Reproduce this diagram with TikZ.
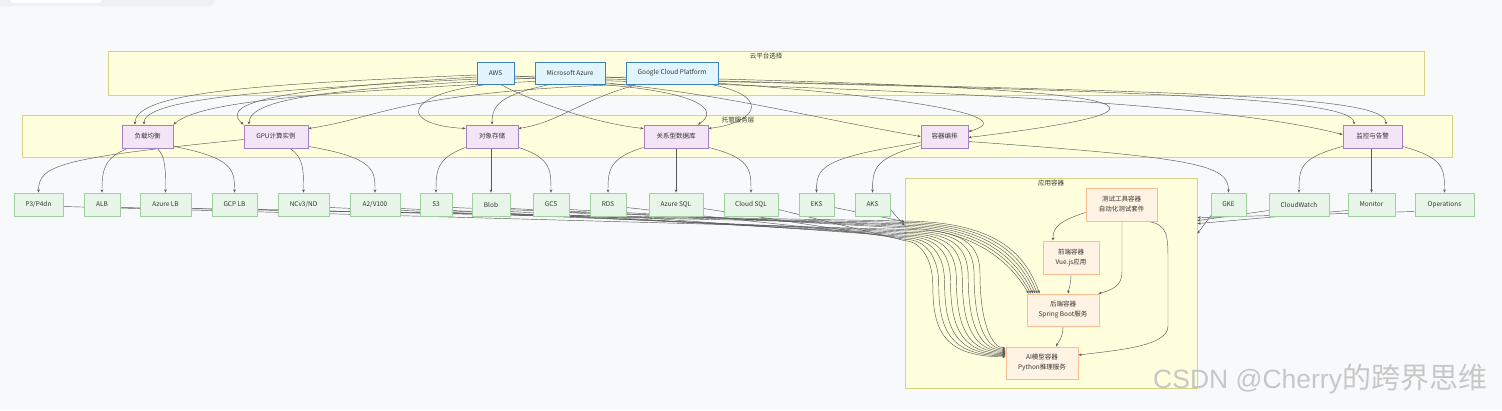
\documentclass[tikz,border=0pt]{standalone}
\usepackage{fontspec}
\setmainfont{Noto Sans CJK SC}
\newfontfamily\wmlatin{Liberation Sans}
\usetikzlibrary{arrows.meta,calc}
\pgfdeclarelayer{back}\pgfdeclarelayer{clus}\pgfdeclarelayer{edges}
\pgfsetlayers{back,clus,edges,main}
\definecolor{bgc}{HTML}{F8F9FA}
\definecolor{clfill}{HTML}{FFFFDE}
\definecolor{cldraw}{HTML}{D6D484}
\definecolor{blfill}{HTML}{E1F5FE}
\definecolor{bldraw}{HTML}{3F7FBF}
\definecolor{pufill}{HTML}{F3E5F5}
\definecolor{pudraw}{HTML}{A77FC7}
\definecolor{grfill}{HTML}{E8F5E9}
\definecolor{grdraw}{HTML}{9FCE9F}
\definecolor{orfill}{HTML}{FFF3E3}
\definecolor{ordraw}{HTML}{F8BE92}
\definecolor{edc}{HTML}{5A5A5A}
\tikzset{
  base/.style={inner sep=0pt, font=\fontsize{6.5}{10}\selectfont, text=black!80, align=center},
  clus/.style={draw=cldraw, fill=clfill, line width=0.8pt, inner sep=0pt},
  ctitle/.style={base},
  cloud/.style={base, draw=bldraw, fill=blfill, line width=0.9pt, minimum height=22pt},
  svc/.style={base, draw=pudraw, fill=pufill, line width=0.8pt, minimum height=23pt},
  res/.style={base, draw=grdraw, fill=grfill, line width=0.8pt, minimum height=23pt},
  app/.style={base, draw=ordraw, fill=orfill, line width=0.9pt},
  ed/.style={draw=edc, line width=0.45pt, -{Stealth[length=3.2pt,width=2.6pt]}},
}
\begin{document}
\begin{tikzpicture}[x=1pt,y=-1pt]
\useasboundingbox (0,0) rectangle (1502,410);
\begin{pgfonlayer}{back}
\fill[bgc] (0,0) rectangle (1502,410);
\fill[black!6, rounded corners=6pt] (-10,-12) rectangle (215,6);
\fill[white, rounded corners=4pt] (10,-12) rectangle (102,3);
\end{pgfonlayer}

% clusters
\begin{pgfonlayer}{clus}
\node[clus, minimum width=1316pt, minimum height=44pt] (c1) at (766,73) {};
\node[clus, minimum width=1430pt, minimum height=42pt] (c2) at (737,136) {};
\node[clus, minimum width=292pt, minimum height=210pt] (c3) at (1051,283) {};
\end{pgfonlayer}
\node[ctitle] (t1) at (766,56.5) {云平台选择};
\node[ctitle] (t2) at (738,120) {托管服务层};
\node[ctitle] (t3) at (1051,183.5) {应用容器};

% cloud providers
\node[cloud, minimum width=37pt] (aws) at (495.5,73) {AWS};
\node[cloud, minimum width=70pt] (az) at (570,73) {Microsoft Azure};
\node[cloud, minimum width=92pt] (gcp) at (672,73) {Google Cloud Platform};

% services
\node[svc, minimum width=51pt] (lb) at (147.5,136.5) {负载均衡};
\node[svc, minimum width=64pt] (gpu) at (276,136.5) {GPU计算实例};
\node[svc, minimum width=52pt] (obj) at (492,136.5) {对象存储};
\node[svc, minimum width=64pt] (rdb) at (676,136.5) {关系型数据库};
\node[svc, minimum width=47pt] (k8s) at (944.5,136.5) {容器编排};
\node[svc, minimum width=59pt] (mon) at (1372.5,136.5) {监控与告警};

% resources
\node[res, minimum width=49pt] (p3) at (38.5,204.5) {P3/P4dn};
\node[res, minimum width=36pt] (alb) at (102,204.5) {ALB};
\node[res, minimum width=51pt] (azlb) at (165.5,204.5) {Azure LB};
\node[res, minimum width=45pt] (gcplb) at (234.5,204.5) {GCP LB};
\node[res, minimum width=51pt] (ncv3) at (303.5,204.5) {NCv3/ND};
\node[res, minimum width=50pt] (a2) at (375,204.5) {A2/V100};
\node[res, minimum width=32pt] (s3) at (436,204.5) {S3};
\node[res, minimum width=38pt] (blob) at (491,204.5) {Blob};
\node[res, minimum width=36pt] (gcs) at (551,204.5) {GCS};
\node[res, minimum width=36pt] (rds) at (608,204.5) {RDS};
\node[res, minimum width=54pt] (azsql) at (676,204.5) {Azure SQL};
\node[res, minimum width=54pt] (csql) at (751,204.5) {Cloud SQL};
\node[res, minimum width=35pt] (eks) at (816.5,204.5) {EKS};
\node[res, minimum width=35pt] (aks) at (872.5,204.5) {AKS};
\node[res, minimum width=35pt] (gke) at (1228.5,204.5) {GKE};
\node[res, minimum width=60pt] (cw) at (1299,204.5) {CloudWatch};
\node[res, minimum width=47pt] (monitor) at (1371.5,204.5) {Monitor};
\node[res, minimum width=59pt] (ops) at (1444.5,204.5) {Operations};

% app containers
\node[app, minimum width=71pt, minimum height=33pt] (test) at (1121.5,204.5) {测试工具容器\\自动化测试套件};
\node[app, minimum width=56pt, minimum height=33pt] (fe) at (1071,257.5) {前端容器\\Vue.js应用};
\node[app, minimum width=72pt, minimum height=32pt] (be) at (1063,310) {后端容器\\Spring Boot服务};
\node[app, minimum width=72pt, minimum height=32pt] (ai) at (1042,363) {AI模型容器\\Python推理服务};

% watermark
\node[inner sep=0pt, anchor=base west, text=black!22] (wm) at (1153,388) {{\wmlatin\fontsize{26.5}{27}\selectfont CSDN @Cherry}{\fontsize{29}{29}\selectfont 的跨界思维}};

\begin{pgfonlayer}{edges}
% cloud -> services
\draw[ed] ($(aws.west)+(0,2)$) .. controls (260,84) and (135,92) .. ($(lb.north)+(-12.5,0)$);
\draw[ed] ($(az.west)+(0,3)$) .. controls (300,88) and (144,96) .. ($(lb.north)+(-3.5,0)$);
\draw[ed] ($(gcp.west)+(0,4)$) .. controls (300,92) and (200,102) .. (lb.north east);
\draw[ed] ($(aws.west)+(0,4)$) .. controls (300,88) and (215,100) .. (gpu.north west);
\draw[ed] ($(az.west)+(0,5)$) .. controls (350,88) and (249,96) .. ($(gpu.north)+(-27,0)$);
\draw[ed] (gcp.south west) .. controls (400,92) and (380,118) .. ($(gpu.east)+(0,-8)$);
\draw[ed] ($(aws.south)+(-8,0)$) .. controls (400,95) and (400,125) .. ($(obj.west)+(0,-8)$);
\draw[ed] ($(az.south)+(-20,0)$) .. controls (500,95) and (492,105) .. (obj.north);
\draw[ed] ($(gcp.south west)+(12,0)$) .. controls (580,100) and (560,122) .. ($(obj.east)+(0,-8)$);
\draw[ed] ($(aws.south)+(5,0)$) .. controls (540,105) and (600,124) .. ($(rdb.west)+(0,-8)$);
\draw[ed] ($(az.south east)+(-5,0)$) .. controls (700,92) and (720,110) .. ($(rdb.north)+(22,0)$);
\draw[ed] ($(gcp.south east)+(-8,0)$) .. controls (770,95) and (760,122) .. ($(rdb.east)+(0,-8)$);
\draw[ed] ($(aws.east)+(0,3)$) .. controls (700,86) and (780,112) .. (k8s.west);
\draw[ed] ($(az.east)+(0,4)$) .. controls (820,86) and (1040,112) .. ($(k8s.east)+(0,-5)$);
\draw[ed] ($(gcp.east)+(0,6)$) .. controls (1150,90) and (1210,108) .. ($(k8s.east)+(0,1)$);
\draw[ed] ($(aws.east)+(0,5)$) .. controls (1000,92) and (1230,106) .. ($(mon.west)+(0,-2)$);
\draw[ed] ($(az.east)+(0,6)$) .. controls (1100,90) and (1354,96) .. ($(mon.north)+(-18.5,0)$);
\draw[ed] ($(gcp.east)+(0,8)$) .. controls (1200,92) and (1386,96) .. ($(mon.north)+(13.5,0)$);

% services -> resources
\draw[ed] ($(lb.south)+(-20,0)$) .. controls (104,158) and (102,170) .. (alb.north);
\draw[ed] ($(lb.south)+(10,0)$) .. controls (166,158) and (165.5,170) .. (azlb.north);
\draw[ed] ($(lb.south east)+(0,-2)$) .. controls (234,158) and (234.5,170) .. (gcplb.north);
\draw[ed] ($(gpu.west)+(0,3)$) .. controls (60,158) and (38.5,165) .. (p3.north);
\draw[ed] ($(gpu.south)+(14,0)$) .. controls (304,158) and (303.5,170) .. (ncv3.north);
\draw[ed] ($(gpu.south east)+(0,-2)$) .. controls (375,158) and (375,170) .. (a2.north);
\draw[ed] ($(obj.south west)+(0,-1)$) .. controls (437,158) and (436,170) .. (s3.north);
\draw[ed] ($(obj.south)+(-1,0)$) -- (blob.north);
\draw[ed] ($(obj.south east)+(0,-1)$) .. controls (551,158) and (551,170) .. (gcs.north);
\draw[ed] ($(rdb.south west)+(0,-1)$) .. controls (609,158) and (608,170) .. (rds.north);
\draw[ed] (rdb.south) -- (azsql.north);
\draw[ed] ($(rdb.south east)+(0,-1)$) .. controls (751,158) and (751,170) .. (csql.north);
\draw[ed] ($(k8s.west)+(0,6)$) .. controls (820,158) and (816.5,168) .. (eks.north);
\draw[ed] ($(k8s.west)+(0,9)$) .. controls (875,158) and (872.5,168) .. (aks.north);
\draw[ed] ($(k8s.east)+(0,5)$) .. controls (1200,158) and (1228.5,165) .. (gke.north);
\draw[ed] ($(mon.south west)+(0,-2)$) .. controls (1300,158) and (1299,168) .. (cw.north);
\draw[ed] ($(mon.south)+(-1,0)$) -- (monitor.north);
\draw[ed] ($(mon.south east)+(0,-2)$) .. controls (1444,158) and (1444.5,168) .. (ops.north);

% resources -> backend container
\draw[ed] ($(alb.east)+(0,3)$) -- (905,221) .. controls (992,222) and (1024,250) .. ($(be.north west)+(13,0)$);
\draw[ed] ($(azlb.east)+(0,4)$) -- (905,222.4) .. controls (988,223.5) and (1021,252) .. ($(be.north west)+(10.8,0)$);
\draw[ed] ($(gcplb.east)+(0,5)$) -- (905,223.8) .. controls (984,225) and (1018,254) .. ($(be.north west)+(8.6,0)$);
\draw[ed] ($(s3.east)+(0,3)$) -- (905,225.2) .. controls (980,226.5) and (1015,256) .. ($(be.north west)+(6.4,0)$);
\draw[ed] ($(blob.east)+(0,4)$) -- (905,226.6) .. controls (976,228) and (1012,258) .. ($(be.north west)+(4.2,0)$);
\draw[ed] ($(gcs.east)+(0,5)$) -- (905,228) .. controls (972,229.5) and (1009,260) .. ($(be.north west)+(2,0)$);

% resources -> AI container
\draw[ed] ($(p3.east)+(0,2)$) -- (905,229.5) .. controls (965,229.5) and (980,244.5) .. (980,274.5) .. controls (980,323) and (992,348) .. ($(ai.west)+(0,-15)$);
\draw[ed] ($(ncv3.east)+(0,3)$) -- (905,230.9) .. controls (959.1,230.9) and (974.1,245.9) .. (974.1,275.9) .. controls (974.1,324.1) and (986.1,349.1) .. ($(ai.west)+(0,-13.9)$);
\draw[ed] ($(a2.east)+(0,4)$) -- (905,232.3) .. controls (953.2,232.3) and (968.2,247.3) .. (968.2,277.3) .. controls (968.2,325.2) and (980.2,350.2) .. ($(ai.west)+(0,-12.8)$);
\draw[ed] ($(s3.east)+(0,6)$) -- (905,233.7) .. controls (947.3,233.7) and (962.3,248.7) .. (962.3,278.7) .. controls (962.3,326.3) and (974.3,351.3) .. ($(ai.west)+(0,-11.7)$);
\draw[ed] ($(blob.east)+(0,7)$) -- (905,235.1) .. controls (941.4,235.1) and (956.4,250.1) .. (956.4,280.1) .. controls (956.4,327.4) and (968.4,352.4) .. ($(ai.west)+(0,-10.6)$);
\draw[ed] ($(gcs.east)+(0,8)$) -- (905,236.5) .. controls (935.5,236.5) and (950.5,251.5) .. (950.5,281.5) .. controls (950.5,328.5) and (962.5,353.5) .. ($(ai.west)+(0,-9.5)$);
\draw[ed] ($(rds.east)+(0,3)$) -- (905,237.9) .. controls (929.6,237.9) and (944.6,252.9) .. (944.6,282.9) .. controls (944.6,329.6) and (956.6,354.6) .. ($(ai.west)+(0,-8.4)$);
\draw[ed] ($(azsql.east)+(0,4)$) -- (905,239.3) .. controls (923.7,239.3) and (938.7,254.3) .. (938.7,284.3) .. controls (938.7,330.7) and (950.7,355.7) .. ($(ai.west)+(0,-7.3)$);
\draw[ed] ($(csql.east)+(0,5)$) -- (905,240.7) .. controls (917.8,240.7) and (932.8,255.7) .. (932.8,285.7) .. controls (932.8,331.8) and (944.8,356.8) .. ($(ai.west)+(0,-6.2)$);

% resources -> application cluster
\draw[ed] ($(eks.east)+(0,3)$) -- ($(c3.north west)+(0,44)$);
\draw[ed] ($(aks.east)+(0,5)$) -- ($(c3.north west)+(0,48)$);
\draw[ed] ($(gke.south west)+(2,-3)$) -- ($(c3.north east)+(0,56)$);
\draw[ed] ($(cw.west)+(0,6)$) -- ($(c3.north east)+(0,43)$);
\draw[ed] ($(monitor.west)+(0,6)$) -- ($(c3.north east)+(0,46)$);
\draw[ed] ($(ops.west)+(0,7)$) -- ($(c3.north east)+(0,40)$);

% inside application cluster
\draw[ed] ($(test.west)+(0,8)$) .. controls (1055,222) and (1053,230) .. ($(fe.north)+(-18,0)$);
\draw[ed] ($(test.south)+(0.5,0)$) -- (1122,272) .. controls (1122,286) and (1112,290) .. ($(be.north east)+(-1,0)$);
\draw[ed] ($(test.south east)+(-10,0)$) .. controls (1168,224) and (1168,236) .. (1168,262) -- (1168,326) .. controls (1168,346) and (1120,350) .. ($(ai.east)+(0,-8)$);
\draw[ed] ($(fe.south)+(0,0)$) .. controls (1071,284) and (1069,288) .. ($(be.north)+(5,0)$);
\draw[ed] (be.south) .. controls (1063,338) and (1058,342) .. ($(ai.north)+(14,0)$);
\end{pgfonlayer}
\end{tikzpicture}
\end{document}
